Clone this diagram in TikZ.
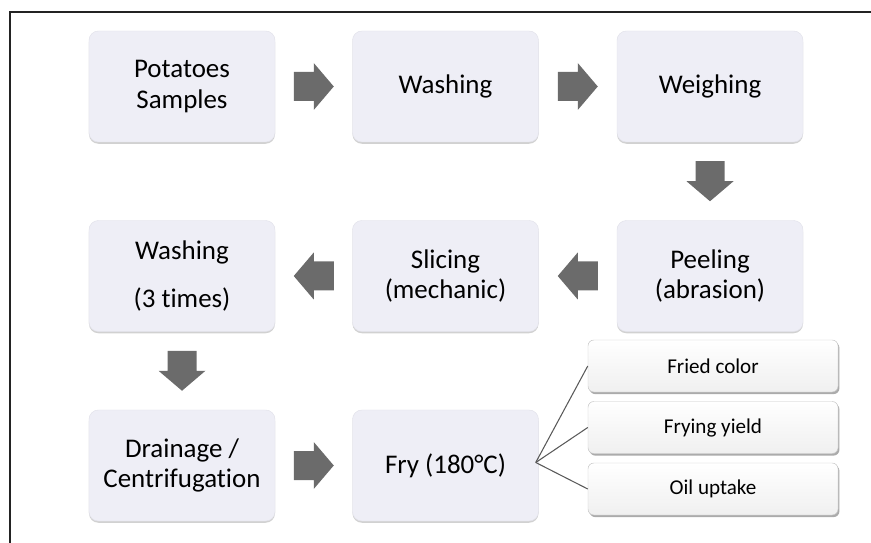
\documentclass[tikz,border=0pt]{standalone}
\usepackage{fontspec}
\setmainfont{Carlito}[Ligatures=NoCommon]
\usepackage{tikz}
\usetikzlibrary{shadows,calc}
\definecolor{boxfill}{RGB}{238,238,246}
\definecolor{boxline}{RGB}{226,226,234}
\definecolor{arrowgray}{RGB}{107,107,107}
\definecolor{framegray}{RGB}{35,35,35}

\tikzset{
  stepbox/.style={draw=boxline, fill=boxfill, rounded corners=8pt,
    minimum width=5.58cm, minimum height=3.33cm, align=center,
    font=\fontsize{23}{26}\selectfont,
    drop shadow={shadow xshift=0pt,shadow yshift=-1.5pt,fill=black,opacity=.18}},
  resbox/.style={draw=gray!45, top color=white, bottom color=gray!12, rounded corners=5pt,
    minimum width=7.5cm, minimum height=1.56cm, align=center,
    font=\fontsize{18}{21}\selectfont,
    drop shadow={shadow xshift=1.2pt,shadow yshift=-1.8pt,fill=black!55,opacity=.6}},
  pics/flow/.style={code={
    \fill[arrowgray] (-20,-14.5) -- (0,-14.5) -- (0,-23.5) -- (20,0)
      -- (0,23.5) -- (0,14.5) -- (-20,14.5) -- cycle;}},
  fork/.style={draw=gray!70!black, line width=0.9pt}
}

\begin{document}
\begin{tikzpicture}[x=0.03cm,y=-0.03cm]
\useasboundingbox (0,0) rectangle (871,543);
\draw[framegray, line width=1.6pt] (10,543) -- (10,12) -- (871,12);

% first row
\node[stepbox] (pot) at (182,86.5) {Potatoes\\Samples};
\node[stepbox] (wash) at (445.5,86.5) {Washing};
\node[stepbox] (weigh) at (710,86.5) {Weighing};

% second row
\node[stepbox] (peel) at (710,276) {Peeling\\(abrasion)};
\node[stepbox] (slice) at (445.5,276) {Slicing\\(mechanic)};
\node[stepbox] (rinse) at (182,276) {Washing\\[15pt](3 times)};

% third row
\node[stepbox] (drain) at (182,465.5) {Drainage /\\Centrifugation};
\node[stepbox] (fry) at (445.5,465.5) {Fry (180°C)};

% results
\node[resbox] (color) at (713,366) {Fried color};
\node[resbox] (yield) at (713,427.5) {Frying yield};
\node[resbox] (oil) at (713,489) {Oil uptake};

% block arrows
\pic at ($(pot.east)!0.5!(wash.west)$) {flow};
\pic at ($(wash.east)!0.5!(weigh.west)$) {flow};
\pic[rotate=-90] at ($(weigh.south)!0.5!(peel.north)$) {flow};
\pic[rotate=180] at ($(peel.west)!0.5!(slice.east)$) {flow};
\pic[rotate=180] at ($(slice.west)!0.5!(rinse.east)$) {flow};
\pic[rotate=-90] at ($(rinse.south)!0.5!(drain.north)$) {flow};
\pic at ($(drain.east)!0.5!(fry.west)$) {flow};

% fork to results
\coordinate (split) at ($(fry.east)+(-3,-3)$);
\draw[fork] (split) -- (color.west);
\draw[fork] (split) -- (yield.west);
\draw[fork] (split) -- (oil.west);
\end{tikzpicture}
\end{document}
